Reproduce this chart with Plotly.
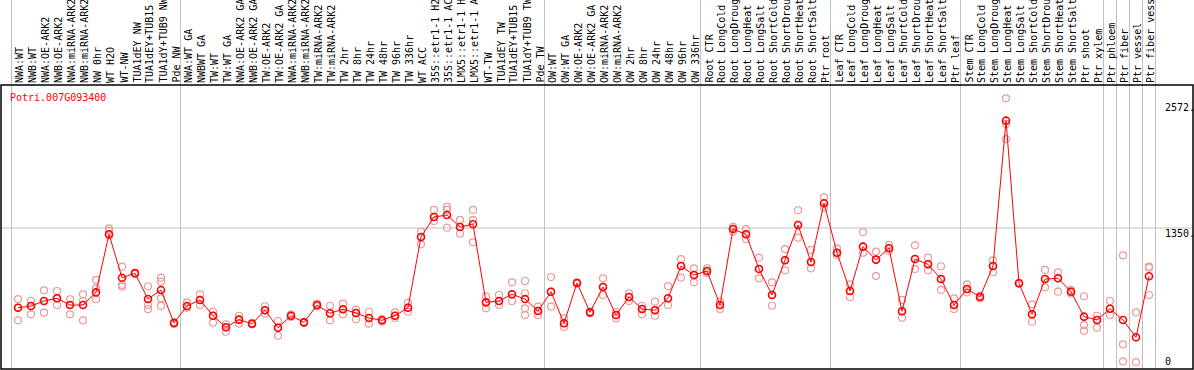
import plotly.graph_objects as go

title_text = "Potri.007G093400"

categories = [
    "NWA:WT", "NWB:WT", "NWA:OE-ARK2", "NWB:OE-ARK2", "NWA:miRNA-ARK2", "NWB:miRNA-ARK2",
    "NW 0hr", "WT H2O", "WT-NW", "TUA1dEY NW", "TUA1dEY+TUB15", "TUA1dY+TUB9 NW", "Pde NW",
    "NWA:WT GA", "NWBWT GA", "TW:WT", "TW:WT GA", "NWA:OE-ARK2 GA", "NWB:OE-ARK2 GA",
    "TW:OE-ARK2", "TW:OE-ARK2 GA", "NWA:miRNA-ARK2", "NWB:miRNA-ARK2", "TW:miRNA-ARK2",
    "TW:miRNA-ARK2", "TW 2hr", "TW 8hr", "TW 24hr", "TW 48hr", "TW 96hr", "TW 336hr", "WT ACC",
    "35S::etr1-1 H2", "35S::etr1-1 AC", "LMX5::etr1-1 H", "LMX5::etr1-1 A", "WT-TW",
    "TUA1dEY TW", "TUA1dEY+TUB15", "TUA1dY+TUB9 TW", "Pde TW",
    "OW:WT", "OW:WT GA", "OW:OE-ARK2", "OW:OE-ARK2 GA", "OW:miRNA-ARK2", "OW:miRNA-ARK2",
    "OW 2hr", "OW 8hr", "OW 24hr", "OW 48hr", "OW 96hr", "OW 336hr",
    "Root CTR", "Root LongCold", "Root LongDroug", "Root LongHeat", "Root LongSalt",
    "Root ShortCold", "Root ShortDrou", "Root ShortHeat", "Root ShortSalt", "Ptr root",
    "Leaf CTR", "Leaf LongCold", "Leaf LongDroug", "Leaf LongHeat", "Leaf LongSalt",
    "Leaf ShortCold", "Leaf ShortDrou", "Leaf ShortHeat", "Leaf ShortSalt", "Ptr leaf",
    "Stem CTR", "Stem LongCold", "Stem LongDroug", "Stem LongHeat", "Stem LongSalt",
    "Stem ShortCold", "Stem ShortDrou", "Stem ShortHeat", "Stem ShortSalt",
    "Ptr shoot", "Ptr xylem", "Ptr phloem", "Ptr fiber", "Ptr vessel", "Ptr fiber vess",
]

means = [
    577, 593, 642, 668, 603, 603, 726, 1289, 868, 911, 661, 749, 429,
    594, 652, 499, 387, 461, 422, 552, 383, 499, 435, 603, 523, 562, 526, 477, 455, 499, 577,
    1263, 1457, 1476, 1360, 1386, 629, 642, 707, 661, 545,
    732, 426, 817, 532, 778, 506, 681, 564, 552, 668, 981, 894,
    933, 603, 1340, 1289, 952, 700, 1037, 1379, 1020, 1590,
    1110, 739, 1169, 1043, 1153, 542, 1049, 998, 855, 603,
    758, 681, 981, 2391, 814, 513, 855, 862, 732,
    490, 458, 567, 458, 290, 882,
]

replicates = [
    [661, 577, 455], [642, 593, 513], [746, 642, 529], [739, 668, 603], [659, 603, 513],
    [707, 642, 455], [846, 765, 659], [1347, 1324, 1275], [975, 797, 781], [905, 911, 917],
    [785, 603, 564], [868, 829, 668, 594], [420, 429, 438],
    [629, 577], [707, 652, 603], [538, 499, 432], [416, 387, 344], [499, 461, 422],
    [415, 422, 430], [591, 552, 519], [448, 383, 305], [513, 499, 487], [430, 435, 440],
    [618, 603, 589], [596, 523, 455], [616, 562, 513], [558, 526, 465], [538, 477, 422],
    [467, 455, 441], [532, 499, 477], [623, 577, 538],
    [1314, 1263, 1192], [1525, 1457, 1418], [1554, 1525, 1353], [1428, 1360, 1295],
    [1525, 1428, 1211], [684, 629, 571], [700, 642, 603], [823, 707, 642],
    [836, 717, 571, 506], [587, 545, 506],
    [875, 732, 587], [474, 426, 390], [810, 817, 824], [525, 532, 540], [862, 778, 700],
    [535, 506, 474], [717, 681, 642], [596, 564, 513], [635, 552, 499], [787, 668, 603],
    [1049, 981, 868], [959, 894, 823],
    [959, 933, 914], [635, 603, 564], [1360, 1340, 1314], [1340, 1289, 1243],
    [1062, 952, 862], [823, 700, 596], [1146, 1037, 940], [1522, 1379, 1256],
    [1137, 1020, 959], [1648, 1590, 1547],
    [1153, 1110, 1088], [804, 739, 681], [1311, 1169, 1110], [1120, 1043, 884],
    [1185, 1153, 1127], [652, 542, 480], [1182, 1049, 952], [1062, 998, 940],
    [979, 855, 749], [668, 603, 564],
    [804, 758, 726], [695, 681, 668], [1037, 981, 920], [2608, 2359, 2213],
    [810, 814, 818], [610, 513, 441], [943, 855, 775], [920, 862, 732], [749, 732, 715],
    [688, 409, 354], [499, 458, 383], [642, 567, 506], [1085, 222, 57], [532, 50],
    [975, 965, 700],
]

y_tick_values = [2572, 1350, 0]
y_tick_labels = ["2572.", "1350.", "0"]
group_boundaries = [-0.5, 12.5, 40.5, 52.5, 62.5, 72.5, 83.5, 84.5, 85.5, 86.5, 87.5]

# ---- layout geometry ----
W, H = 1194, 370
ML, MR, MT, MB = 1, 1, 85, 1
PW, PH = W - ML - MR, H - MT - MB
X0 = (ML - 18) / 13.0
X1 = (ML + PW - 18) / 13.0
Y0, Y1 = -17.5, 2737.0

MONO = "DejaVu Sans Mono"
RED = "#ff0000"
PINK = "#eb9a9a"
GRID = "#c0c0c0"

xs = list(range(len(categories)))
rep_x, rep_y = [], []
for i, reps in enumerate(replicates):
    for v in reps:
        rep_x.append(i)
        rep_y.append(v)

fig = go.Figure()
fig.add_trace(go.Scatter(
    x=rep_x, y=rep_y, mode="markers",
    marker=dict(symbol="circle-open", size=7, color=PINK, line=dict(width=1.2, color=PINK)),
    hoverinfo="skip", showlegend=False, cliponaxis=False,
))
fig.add_trace(go.Scatter(
    x=xs, y=means, mode="lines+markers",
    line=dict(color=RED, width=1),
    marker=dict(symbol="circle-open", size=7, color=RED, line=dict(width=1.6, color=RED)),
    showlegend=False, cliponaxis=False,
))


def px_to_paper_x(i):
    return (i - X0) / (X1 - X0)


shapes = []
for b in group_boundaries:
    xp = px_to_paper_x(b)
    shapes.append(dict(type="line", xref="paper", yref="paper", x0=xp, x1=xp,
                       y0=0, y1=(H - MB) / PH, line=dict(color=GRID, width=1), layer="below"))
shapes.append(dict(type="line", xref="paper", yref="y", x0=0, x1=1, y0=1350, y1=1350,
                   line=dict(color=GRID, width=1), layer="below"))
shapes.append(dict(type="rect", xref="paper", yref="paper", x0=0, x1=1, y0=0, y1=1,
                   line=dict(color="black", width=1.5), layer="above"))

annotations = []
label_bottom_px = 84
for i, c in enumerate(categories):
    annotations.append(dict(
        x=i, xref="x", y=(H - MB - label_bottom_px) / PH, yref="paper",
        text=c, textangle=-90, showarrow=False, xanchor="center", yanchor="bottom",
        xshift=2, font=dict(family=MONO, size=10, color="black"), borderpad=0,
    ))
annotations.append(dict(
    x=(9 - ML) / PW, xref="paper", y=(H - MB - 97) / PH, yref="paper",
    text=title_text, showarrow=False, xanchor="left", yanchor="middle",
    font=dict(family=MONO, size=10, color=RED), borderpad=0,
))
label_y_px = [107, 233, 361]
for v, t, ypx in zip(y_tick_values, y_tick_labels, label_y_px):
    annotations.append(dict(
        x=(1164 - ML) / PW, xref="paper", y=(H - MB - ypx) / PH, yref="paper",
        text=t, showarrow=False, xanchor="left", yanchor="middle",
        font=dict(family=MONO, size=10, color="black"), borderpad=0,
    ))

fig.update_layout(
    width=W, height=H,
    margin=dict(l=ML, r=MR, t=MT, b=MB, pad=0),
    paper_bgcolor="white", plot_bgcolor="white",
    xaxis=dict(range=[X0, X1], showgrid=False, zeroline=False, showticklabels=False,
               ticks="", showline=False),
    yaxis=dict(range=[Y0, Y1], showgrid=False, zeroline=False, showticklabels=False,
               ticks="", showline=False),
    shapes=shapes, annotations=annotations, showlegend=False,
)

fig.write_html("out.html", config={"displayModeBar": False},
               post_script="document.body.style.margin='0';")
